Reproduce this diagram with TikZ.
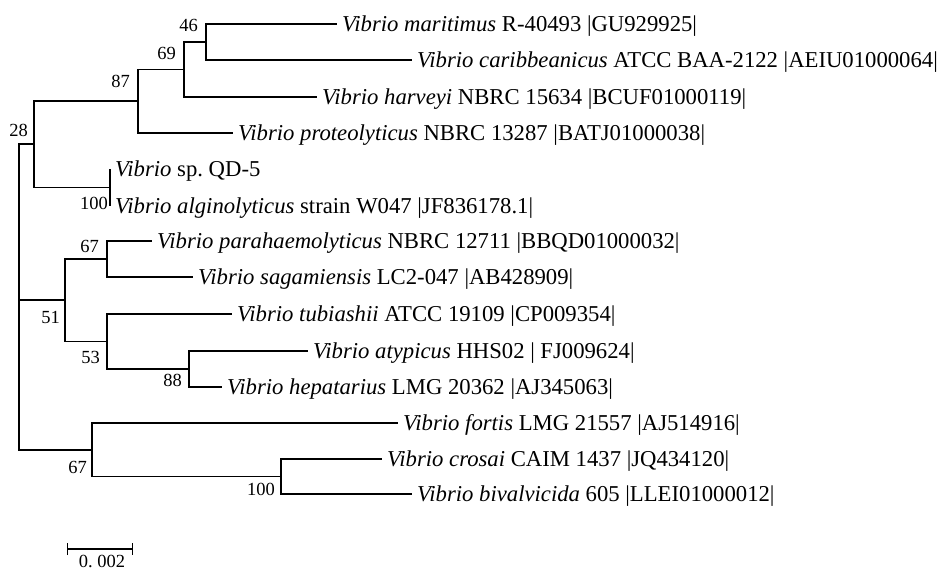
\documentclass[tikz,border=0pt]{standalone}
\usepackage{fontspec}
\setmainfont{Liberation Serif}
\usetikzlibrary{arrows.meta}
\frenchspacing
\begin{document}
\begin{tikzpicture}[x=1pt,y=-1pt,
    taxon/.style={anchor=west, inner xsep=5pt, inner ysep=0pt, font=\fontsize{22.7}{26}\selectfont, text height=16pt, text depth=1pt},
    boot/.style={anchor=east, inner sep=0pt, font=\fontsize{18.5}{21}\selectfont},
    branch/.style={line width=1.4pt}]
    \useasboundingbox (0,0) rectangle (938,570);

    \node[taxon] (mari) at (337,24) {\textit{Vibrio maritimus} R-40493 |GU929925|};
    \node[taxon] (cari) at (412,60) {\textit{Vibrio caribbeanicus} ATCC BAA-2122 |AEIU01000064|};
    \node[taxon] (harv) at (317,97) {\textit{Vibrio harveyi} NBRC 15634 |BCUF01000119|};
    \node[taxon] (prot) at (233,133) {\textit{Vibrio proteolyticus} NBRC 13287 |BATJ01000038|};
    \node[taxon] (qd5) at (110,169) {\textit{Vibrio} sp. QD-5};
    \node[taxon] (algi) at (110,206) {\textit{Vibrio alginolyticus} strain W047 |JF836178.1|};
    \node[taxon] (para) at (152,241) {\textit{Vibrio parahaemolyticus} NBRC 12711 |BBQD01000032|};
    \node[taxon] (saga) at (193,277) {\textit{Vibrio sagamiensis} LC2-047 |AB428909|};
    \node[taxon] (tubi) at (232,314) {\textit{Vibrio tubiashii} ATCC 19109 |CP009354|};
    \node[taxon] (atyp) at (308,351) {\textit{Vibrio atypicus} HHS02 | FJ009624|};
    \node[taxon] (hepa) at (222,387) {\textit{Vibrio hepatarius} LMG 20362 |AJ345063|};
    \node[taxon] (fort) at (398,423) {\textit{Vibrio fortis} LMG 21557 |AJ514916|};
    \node[taxon] (cros) at (382,459) {\textit{Vibrio crosai} CAIM 1437 |JQ434120|};
    \node[taxon] (biva) at (412,494) {\textit{Vibrio bivalvicida} 605 |LLEI01000012|};

    \coordinate (n46) at (206,42);
    \coordinate (n69) at (184,69.5);
    \coordinate (n87) at (138,101);
    \coordinate (nqd) at (110,187.5);
    \coordinate (n28) at (34,144);
    \coordinate (n67a) at (107,259);
    \coordinate (n88) at (189,369);
    \coordinate (n53) at (107,341.5);
    \coordinate (n51) at (65,300);
    \coordinate (n100) at (281,476.5);
    \coordinate (n67b) at (92,450);
    \coordinate (root) at (19,300);

    \draw[branch] (n46) |- (mari.west);
    \draw[branch] (n46) |- (cari.west);
    \draw[branch] (n69) |- (n46);
    \draw[branch] (n69) |- (harv.west);
    \draw[branch] (n87) |- (n69);
    \draw[branch] (n87) |- (prot.west);
    \draw[branch] (nqd) |- (qd5.west);
    \draw[branch] (nqd) |- (algi.west);
    \draw[branch] (n28) |- (n87);
    \draw[branch] (n28) |- (nqd);
    \draw[branch] (n67a) |- (para.west);
    \draw[branch] (n67a) |- (saga.west);
    \draw[branch] (n88) |- (atyp.west);
    \draw[branch] (n88) |- (hepa.west);
    \draw[branch] (n53) |- (tubi.west);
    \draw[branch] (n53) |- (n88);
    \draw[branch] (n51) |- (n67a);
    \draw[branch] (n51) |- (n53);
    \draw[branch] (n100) |- (cros.west);
    \draw[branch] (n100) |- (biva.west);
    \draw[branch] (n67b) |- (fort.west);
    \draw[branch] (n67b) |- (n100);
    \draw[branch] (root) |- (n28);
    \draw[branch] (root) -- (n51);
    \draw[branch] (root) |- (n67b);

    \node[boot] (b46) at (198,25) {46};
    \node[boot] (b69) at (176,53) {69};
    \node[boot] (b87) at (130,81) {87};
    \node[boot] (b28) at (28,130) {28};
    \node[boot] (b100a) at (108,203) {100};
    \node[boot] (b67a) at (99,246) {67};
    \node[boot] (b51) at (60,317) {51};
    \node[boot] (b53) at (100,357) {53};
    \node[boot] (b88) at (182,380) {88};
    \node[boot] (b67b) at (87,467) {67};
    \node[boot] (b100b) at (275,489) {100};

    \coordinate (sb0) at (67,549);
    \coordinate (sb1) at (133,549);
    \draw[branch, {Bar[width=12pt]}-{Bar[width=12pt]}] (sb0) -- (sb1);
    \node[boot, anchor=center] (sbl) at (102,561) {0. 002};
\end{tikzpicture}
\end{document}
